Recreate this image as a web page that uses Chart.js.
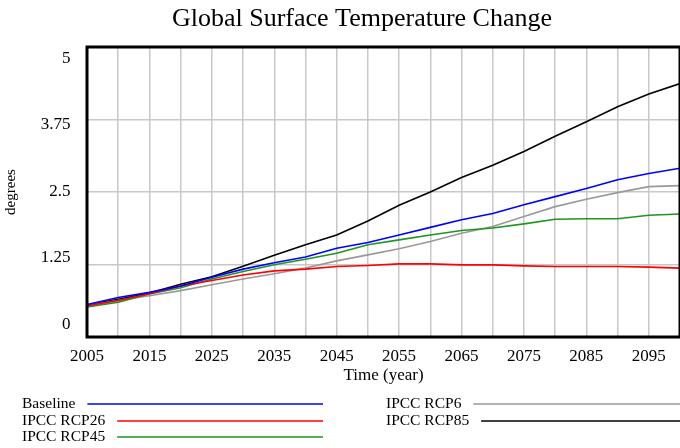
<!DOCTYPE html>
<html><head><meta charset="utf-8">
<script src="https://cdn.jsdelivr.net/npm/chart.js@4"></script>
<style>html,body{margin:0;padding:0;background:#fff}</style>
</head><body>
<canvas id="c" width="680" height="448"></canvas>
<script>
const chartTitle = 'Global Surface Temperature Change';
const xAxisTitle = 'Time (year)';
const yAxisTitle = 'degrees';
const years = [2005,2010,2015,2020,2025,2030,2035,2040,2045,2050,2055,2060,2065,2070,2075,2080,2085,2090,2095,2100];
const baseline = [0.56,0.68,0.77,0.88,1.03,1.17,1.28,1.38,1.53,1.63,1.76,1.89,2.02,2.13,2.28,2.42,2.56,2.71,2.82,2.91];
const rcp26    = [0.54,0.63,0.745,0.88,0.975,1.07,1.14,1.17,1.215,1.232,1.26,1.26,1.244,1.244,1.227,1.215,1.215,1.215,1.205,1.188];
const rcp45    = [0.52,0.60,0.74,0.85,1.0,1.13,1.245,1.34,1.445,1.59,1.675,1.76,1.835,1.88,1.95,2.03,2.04,2.04,2.10,2.12];
const rcp6     = [0.54,0.63,0.71,0.80,0.90,1.0,1.09,1.19,1.313,1.416,1.52,1.645,1.79,1.904,2.076,2.248,2.375,2.489,2.592,2.61];
const rcp85    = [0.55,0.65,0.76,0.91,1.04,1.22,1.41,1.59,1.76,2.0,2.27,2.5,2.75,2.96,3.2,3.46,3.71,3.97,4.19,4.37];
const seriesNames = ['Baseline','IPCC RCP26','IPCC RCP45','IPCC RCP6','IPCC RCP85'];
const seriesColors = ['#0000ff','#ff0000','#1e961e','#999999','#000000'];
const xTickLabels = ['2005','2015','2025','2035','2045','2055','2065','2075','2085','2095'];
const yTickValues = [0,1.25,2.5,3.75,5];
const yTickLabels = ['0','1.25','2.5','3.75','5'];

const allSeries = [baseline, rcp26, rcp45, rcp6, rcp85];
const datasets = allSeries.map((vals,i)=>({
  label: seriesNames[i],
  data: years.map((yr,j)=>({x:yr, y:vals[j]})),
  borderColor: seriesColors[i],
  backgroundColor: seriesColors[i],
  borderWidth: 1.6,
  pointRadius: 0,
  tension: 0,
  fill: false
}));

const SERIF = '"Liberation Serif", "Times New Roman", serif';

const decor = {
  id: 'decor',
  afterDraw(chart){
    const {ctx, chartArea:a, scales:{y}} = chart;
    ctx.save();
    ctx.strokeStyle = '#000'; ctx.lineWidth = 3;
    ctx.strokeRect(a.left, a.top, a.right - a.left, a.bottom - a.top);
    // y tick labels (spread like the original)
    ctx.fillStyle = '#000';
    ctx.font = '17px ' + SERIF;
    ctx.textAlign = 'right'; ctx.textBaseline = 'middle';
    const H = a.bottom - a.top;
    yTickValues.forEach((v,i)=>{
      const p = y.getPixelForValue(v);
      const ly = a.top + 11.3 + (p - a.top) * (H - 23.8) / H;
      ctx.fillText(yTickLabels[i], 70.5, ly);
    });
    // title
    ctx.font = '26px ' + SERIF;
    ctx.textAlign = 'center'; ctx.textBaseline = 'middle';
    ctx.fillText(chartTitle, 362, 19);
    // legend
    ctx.font = '15.5px ' + SERIF;
    ctx.textAlign = 'left';
    const cols = [{x:22, end:323, items:[0,1,2]}, {x:386, end:682, items:[3,4]}];
    const rows = [404, 421, 437];
    cols.forEach(c=>{
      c.items.forEach((idx,r)=>{
        const ds = chart.data.datasets[idx];
        ctx.fillStyle = '#000';
        ctx.fillText(ds.label, c.x, rows[r]);
        const w = ctx.measureText(ds.label).width;
        ctx.strokeStyle = ds.borderColor; ctx.lineWidth = 1.6;
        ctx.beginPath(); ctx.moveTo(c.x + w + 12, rows[r]); ctx.lineTo(c.end, rows[r]); ctx.stroke();
      });
    });
    ctx.restore();
  }
};

new Chart(document.getElementById('c'), {
  type: 'line',
  data: { datasets },
  options: {
    responsive: false,
    devicePixelRatio: 1,
    animation: false,
    layout: { padding: { top: 47, left: 0, right: -2, bottom: 62 } },
    plugins: { legend: {display:false}, title: {display:false}, tooltip: {enabled:false} },
    scales: {
      x: {
        type: 'linear', min: 2005, max: 2100,
        grid: { color: '#c8c8c8', lineWidth: 1.5, drawTicks: false },
        border: { display: false },
        ticks: {
          stepSize: 5, autoSkip: false, maxRotation: 0, minRotation: 0, padding: 9,
          color: '#000', font: { family: SERIF, size: 17 },
          callback: (v) => { const s = String(v); return xTickLabels.includes(s) ? s : ''; }
        },
        title: { display: true, text: xAxisTitle, color: '#000', font: { family: SERIF, size: 17 }, padding: 0 },
        afterFit: (s) => { s.height = 49; s.paddingRight = 0; s.paddingLeft = 0; }
      },
      y: {
        min: 0, max: 5,
        grid: { color: '#c8c8c8', lineWidth: 1.5, drawTicks: false },
        border: { display: false },
        ticks: { display: false, stepSize: 1.25 },
        title: { display: true, text: yAxisTitle, color: '#000', font: { family: SERIF, size: 15 }, padding: {top: 2, bottom: 0} },
        afterFit: (s) => { s.width = 87; s.paddingTop = 0; s.paddingBottom = 0; }
      }
    }
  },
  plugins: [decor]
});
</script>
</body></html>
